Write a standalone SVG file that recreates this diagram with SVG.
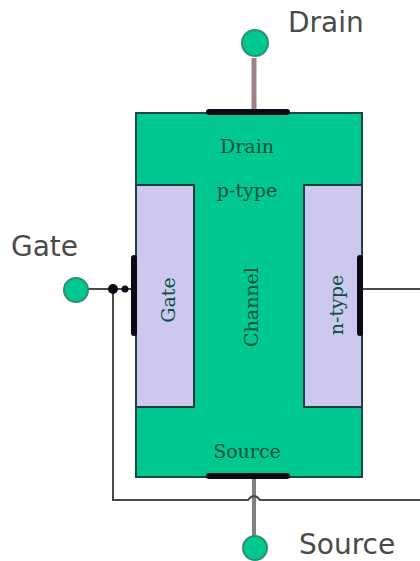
<svg xmlns="http://www.w3.org/2000/svg" width="420" height="561" viewBox="0 0 420 561">
<style>
.t{font-family:"DejaVu Sans",sans-serif;font-size:28px;fill:#4a4a4a}
.s{font-family:"DejaVu Serif","Liberation Serif",serif;font-size:19px;fill:#06503a;text-anchor:middle}
.w{fill:none;stroke:#4a4a4a;stroke-width:2}
.c{fill:#00c890;stroke:#2e8f6c;stroke-width:2}
.k{stroke:#0a0a14;stroke-width:6;stroke-linecap:round;fill:none}
.p{fill:#ccc8f0;stroke:#223c44;stroke-width:2}
</style>
<rect width="420" height="561" fill="#fff"/>
<g id="body"><rect x="136" y="113" width="226" height="364" fill="#00c890" stroke="#1a4a44" stroke-width="2"/></g>
<g id="gate-region"><path class="p" d="M136 185H194V407H136Z"/></g>
<g id="ntype-region"><path class="p" d="M362 185H304V407H362Z"/></g>
<g id="connectors">
<path d="M254 58V110" fill="none" stroke="#a08088" stroke-width="5"/>
<path d="M254 478V540" fill="none" stroke="#808080" stroke-width="4"/>
<path class="w" d="M88 289H134"/>
<path class="w" d="M113 289V500H248Q254 492 260 500H420"/>
<path class="w" d="M362 289H420"/>
<path class="k" d="M209 112H287"/>
<path class="k" d="M209 476H287"/>
<path class="k" d="M134 258V333"/>
<path class="k" d="M360 258V333"/>
<circle cx="113" cy="289" r="5" fill="#0a0a14"/>
<circle cx="125" cy="289" r="3.5" fill="#0a0a14"/>
</g>
<g id="drain-terminal"><circle class="c" cx="255" cy="43" r="13"/><text class="t" x="288" y="32">Drain</text></g>
<g id="gate-terminal"><circle class="c" cx="76" cy="290" r="12"/><text class="t" x="11" y="256">Gate</text></g>
<g id="source-terminal"><circle class="c" cx="255" cy="548" r="12"/><text class="t" x="299" y="554">Source</text></g>
<g id="labels">
<text class="s" x="247" y="153">Drain</text>
<text class="s" x="247" y="197">p-type</text>
<text class="s" x="247" y="458">Source</text>
<text class="s" transform="translate(175 300) rotate(-90)">Gate</text>
<text class="s" transform="translate(258 307) rotate(-90)">Channel</text>
<text class="s" transform="translate(343 305) rotate(-90)">n-type</text>
</g>
</svg>
